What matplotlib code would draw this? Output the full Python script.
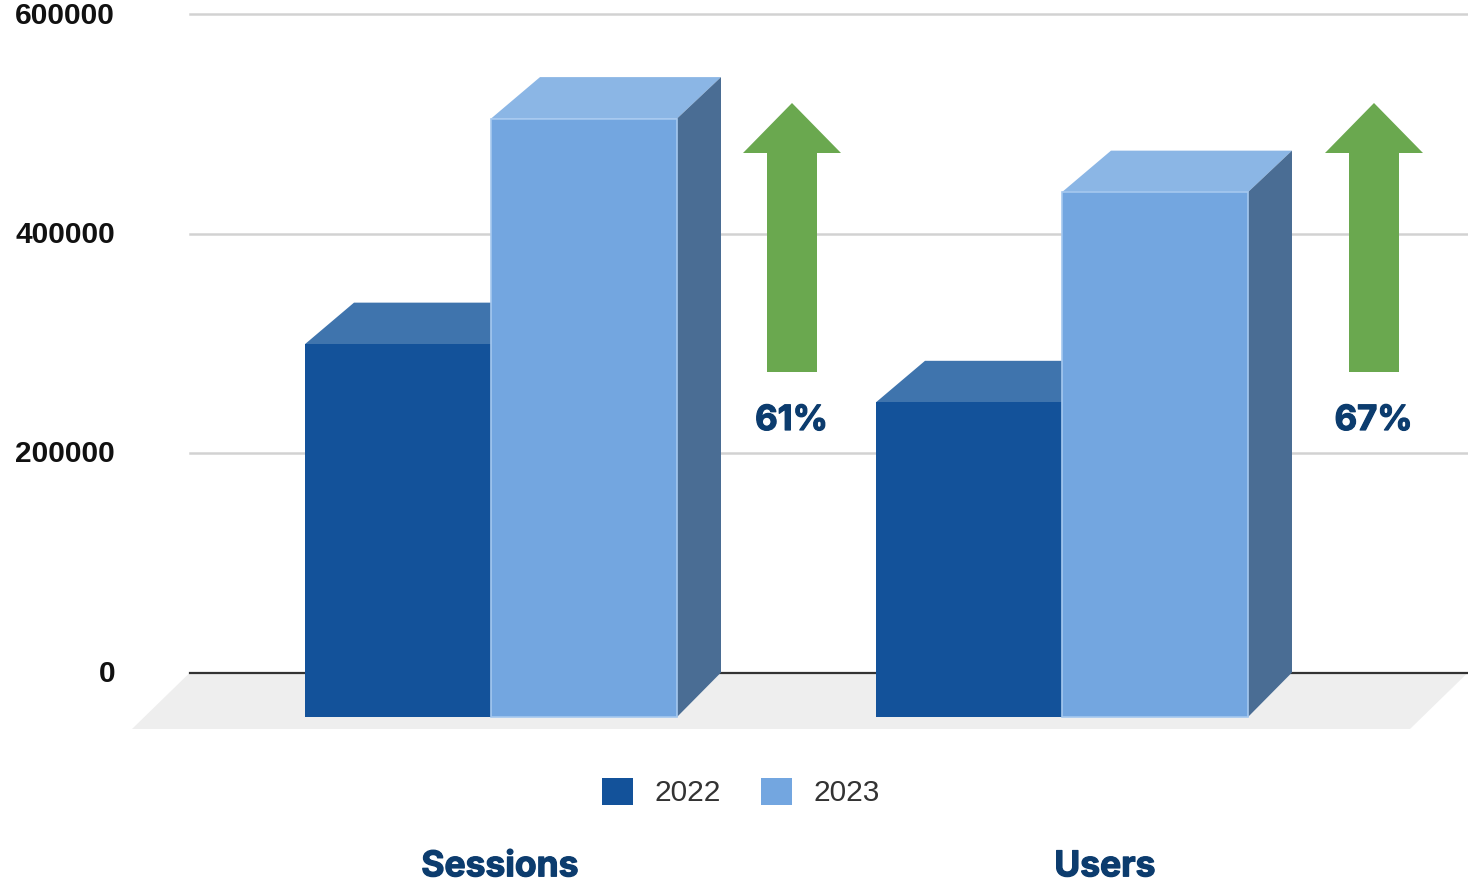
import matplotlib
matplotlib.use("Agg")
import matplotlib.pyplot as plt
import matplotlib.patheffects as pe
from matplotlib.patches import Polygon, Rectangle
from matplotlib.transforms import ScaledTranslation

categories = ['Sessions', 'Users']
years = ['2022', '2023']
sessions_users_2022 = [337000, 284000]
sessions_users_2023 = [542500, 475500]
growth_labels = ['61%', '67%']
y_ticks = [0, 200000, 400000, 600000]

# figure layout, in pixels of the 1468x883 canvas
W, H = 1468, 883
AX_LEFT, AX_TOP, AX_ZERO = 190, 14, 672.5
UNITS_PER_PX = 600000 / (AX_ZERO - AX_TOP)

BAR_W = 186
DEPTH_LEFT = 49
DEPTH_RIGHT = 44
DROP_TOP = 41.5 * UNITS_PER_PX
DROP_FLOOR = 44.5 * UNITS_PER_PX
group_left = [305, 876]
arrow_x = [792, 1374]
label_x = [500, 1105]

NAVY = '#0c3c6e'
FRONT = ['#13529a', '#73a6e0']
TOP = ['#3f74ad', '#8bb6e5']
SIDE = '#4a6d94'
ARROW = '#6aa84f'
# thickens the heavy navy labels a little
HEAVY = [pe.withStroke(linewidth=0.9, foreground=NAVY)]


def px_y(p):
    return (AX_ZERO - p) * UNITS_PER_PX


def draw_box(ax, x, value, s, z):
    bottom = -DROP_FLOOR
    front_top = value - DROP_TOP
    edge = '#a5c8ef' if s == 1 else FRONT[0]
    lw = 1.2 if s == 1 else 0
    top = Polygon([(x, front_top), (x + DEPTH_LEFT, value),
                   (x + BAR_W + DEPTH_RIGHT, value), (x + BAR_W, front_top)],
                  facecolor=TOP[s], edgecolor='none', zorder=z, clip_on=False)
    side = Polygon([(x + BAR_W, front_top), (x + BAR_W + DEPTH_RIGHT, value),
                    (x + BAR_W + DEPTH_RIGHT, 0), (x + BAR_W, bottom)],
                   facecolor=SIDE, edgecolor='none', zorder=z, clip_on=False)
    ax.add_patch(top)
    ax.add_patch(side)
    ax.bar(x, front_top - bottom, width=BAR_W, bottom=bottom, align='edge',
           color=FRONT[s], edgecolor=edge, linewidth=lw, zorder=z + 0.1,
           clip_on=False)


def draw_arrow(ax, cx):
    # up arrow, drawn in pixel sizes so the head keeps its shape
    pts = [(cx - 25, 372), (cx + 25, 372), (cx + 25, 153), (cx + 49, 153),
           (cx, 103), (cx - 49, 153), (cx - 25, 153)]
    ax.add_patch(Polygon([(x, px_y(p)) for x, p in pts], facecolor=ARROW,
                         edgecolor='none', zorder=10, clip_on=False))


plt.rcParams['font.family'] = ['Liberation Sans', 'DejaVu Sans']

fig = plt.figure(figsize=(W / 100, H / 100), dpi=100)
ax = fig.add_axes([AX_LEFT / W, 1 - AX_ZERO / H,
                   1 - AX_LEFT / W, (AX_ZERO - AX_TOP) / H])
ax.set_xlim(AX_LEFT, W)
ax.set_ylim(0, 600000)
for spine in ax.spines.values():
    spine.set_visible(False)

# floor and gridlines
floor = Polygon([(132, px_y(729)), (190, 0), (W, 0), (1410, px_y(729))],
                facecolor='#eeeeee', edgecolor='none', zorder=1, clip_on=False)
ax.add_patch(floor)
ax.set_yticks(y_ticks)
ax.set_yticklabels([str(v) for v in y_ticks], fontsize=21.5, fontweight='bold',
                   color='#111111')
ax.tick_params(axis='y', length=0, pad=54)
nudge = ScaledTranslation(0, 1.5 / 100, fig.dpi_scale_trans)
for lab in ax.get_yticklabels():
    lab.set_transform(lab.get_transform() + nudge)
for v in y_ticks[1:]:
    ax.axhline(v, color='#d2d2d2', linewidth=1.8, zorder=2, clip_on=False)
ax.axhline(0, color='#333333', linewidth=1.6, zorder=2, clip_on=False)

for i, left in enumerate(group_left):
    draw_box(ax, left, sessions_users_2022[i], 0, 3)
    draw_box(ax, left + BAR_W, sessions_users_2023[i], 1, 5)
    draw_arrow(ax, arrow_x[i])
    ax.text(arrow_x[i] - 0.5, px_y(421), growth_labels[i], ha='center', va='center',
            fontsize=25, fontweight='bold', color=NAVY,
            family=['Inter', 'DejaVu Sans'], zorder=11, path_effects=HEAVY)

ax.set_xticks(label_x)
ax.set_xticklabels(categories, fontsize=25.5, fontweight='bold', color=NAVY,
                   family=['Inter', 'DejaVu Sans'], path_effects=HEAVY)
ax.tick_params(axis='x', length=0, pad=128)

handles = [Rectangle((0, 0), 1, 1, facecolor=FRONT[0]),
           Rectangle((0, 0), 1, 1, facecolor=FRONT[1])]
ax.legend(handles, years, loc='center', ncol=2, frameon=False, fontsize=21.5,
          labelcolor='#333333', handlelength=1.04, handleheight=1.04,
          handletextpad=0.7, columnspacing=1.36,
          bbox_to_anchor=(741, px_y(792.5)), bbox_transform=ax.transData,
          borderaxespad=0, borderpad=0)

fig.savefig('out.png', dpi=100)
